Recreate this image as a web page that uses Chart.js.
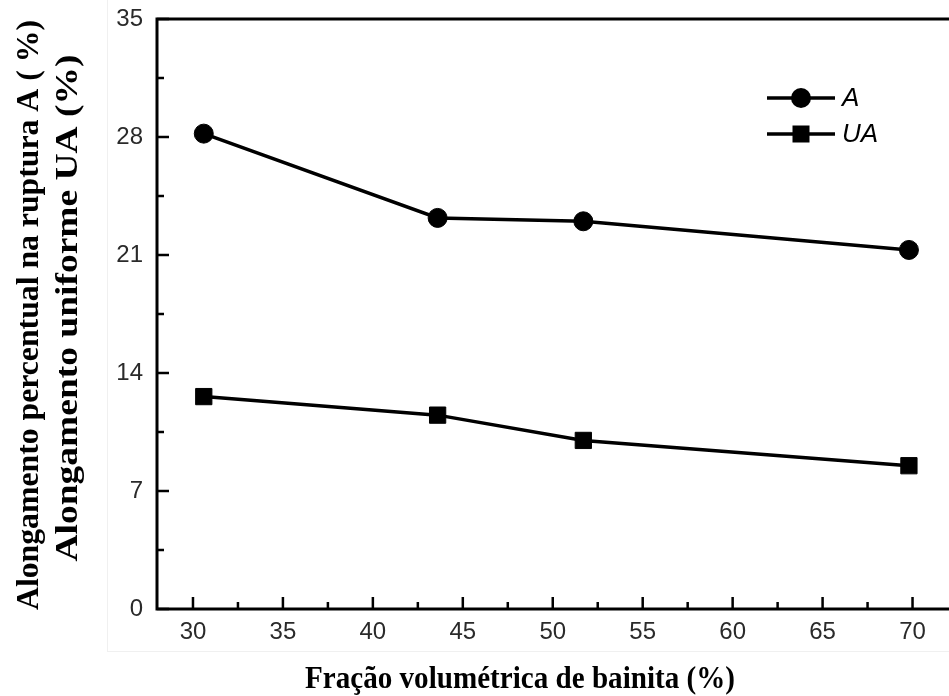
<!DOCTYPE html>
<html lang="pt">
<head>
    <meta charset="UTF-8">
    <title>Alongamento x Fração de bainita</title>
    <script src="https://cdn.jsdelivr.net/npm/chart.js"></script>
    <style>
        html, body {
            margin: 0;
            padding: 0;
            background: #ffffff;
            overflow: hidden;
        }
        #wrap {
            position: relative;
            width: 949px;
            height: 696px;
            overflow: hidden;
        }
        #frame {
            position: absolute;
            left: 107px;
            top: 0;
            width: 900px;
            height: 651px;
            border-left: 1px solid #f0f0f0;
            border-bottom: 1px solid #f0f0f0;
        }
        #chart {
            position: absolute;
            left: 0;
            top: 0;
        }
    </style>
</head>
<body>
    <div id="wrap">
        <div id="frame"></div>
        <canvas id="chart" width="970" height="696"></canvas>
    </div>

    <script>
        // values
        const fracBainita = [30.6, 43.6, 51.7, 69.8];
        const alongA = [28.2, 23.2, 23.0, 21.3];
        const alongUA = [12.6, 11.5, 10.0, 8.5];
        const seriesNames = ['A', 'UA'];
        const yMajor = [0, 7, 14, 21, 28, 35];
        const xMajor = [30, 35, 40, 45, 50, 55, 60, 65, 70];

        const yTitle = ['Alongamento percentual na ruptura A ( %)', 'Alongamento uniforme UA (%)'];
        const xTitle = 'Fração volumétrica de bainita (%)';

        const toPoints = (xs, ys) => xs.map((x, i) => ({ x: x, y: ys[i] }));

        // box around the plot + inward ticks
        const frameTicks = {
            id: 'frameTicks',
            beforeDatasetsDraw(chart) {
                const { ctx, chartArea: a, scales } = chart;
                ctx.save();
                ctx.strokeStyle = '#000';
                ctx.lineWidth = 3;
                ctx.strokeRect(a.left, a.top, a.right - a.left, a.bottom - a.top);

                ctx.lineWidth = 2.5;
                ctx.beginPath();
                for (let i = 0; i < yMajor.length; i++) {
                    const y = scales.y.getPixelForValue(yMajor[i]);
                    ctx.moveTo(a.left, y);
                    ctx.lineTo(a.left + 12, y);
                    if (i < yMajor.length - 1) {
                        const ym = scales.y.getPixelForValue((yMajor[i] + yMajor[i + 1]) / 2);
                        ctx.moveTo(a.left, ym);
                        ctx.lineTo(a.left + 7, ym);
                    }
                }
                for (let i = 0; i < xMajor.length; i++) {
                    const x = scales.x.getPixelForValue(xMajor[i]);
                    ctx.moveTo(x, a.bottom);
                    ctx.lineTo(x, a.bottom - 12);
                    if (i < xMajor.length - 1) {
                        const xm = scales.x.getPixelForValue((xMajor[i] + xMajor[i + 1]) / 2);
                        ctx.moveTo(xm, a.bottom);
                        ctx.lineTo(xm, a.bottom - 7);
                    }
                }
                ctx.stroke();
                ctx.restore();
            }
        };

        // legend drawn inside the plot, top right
        const innerLegend = {
            id: 'innerLegend',
            afterDraw(chart) {
                const { ctx, chartArea: a } = chart;
                const x0 = a.left + 610;
                const y0 = a.top + 79;
                ctx.save();
                chart.data.datasets.forEach((ds, i) => {
                    const y = y0 + i * 36;
                    ctx.strokeStyle = '#000';
                    ctx.lineWidth = 3.5;
                    ctx.beginPath();
                    ctx.moveTo(x0, y);
                    ctx.lineTo(x0 + 68, y);
                    ctx.stroke();
                    ctx.fillStyle = '#000';
                    if (ds.pointStyle === 'rect') {
                        ctx.fillRect(x0 + 34 - 8.5, y - 8.5, 17, 17);
                    } else {
                        ctx.beginPath();
                        ctx.arc(x0 + 34, y, 10, 0, Math.PI * 2);
                        ctx.fill();
                    }
                    ctx.font = 'italic 26px "Liberation Sans", Arial, sans-serif';
                    ctx.textBaseline = 'middle';
                    ctx.textAlign = 'left';
                    ctx.fillText(ds.label, x0 + 75, y + 1);
                });
                ctx.restore();
            }
        };

        // condensed serif axis titles
        const axisTitles = {
            id: 'axisTitles',
            afterDraw(chart) {
                const ctx = chart.ctx;
                ctx.save();
                ctx.fillStyle = '#000';
                ctx.font = 'bold 32px "Liberation Serif", "Times New Roman", serif';
                ctx.textAlign = 'center';
                ctx.textBaseline = 'alphabetic';

                // x title
                let w = ctx.measureText(xTitle).width;
                ctx.save();
                ctx.translate(520, 688);
                ctx.scale(430 / w, 1);
                ctx.fillText(xTitle, 0, 0);
                ctx.restore();

                // y title, two lines
                const spots = [[38, 315, 590], [77, 308, 507]];
                yTitle.forEach((t, i) => {
                    const [bx, cy, len] = spots[i];
                    const tw = ctx.measureText(t).width;
                    ctx.save();
                    ctx.translate(bx, cy);
                    ctx.rotate(-Math.PI / 2);
                    ctx.scale(len / tw, 1);
                    ctx.fillText(t, 0, 0);
                    ctx.restore();
                });
                ctx.restore();
            }
        };

        const tickFont = { family: '"Liberation Sans", Arial, sans-serif', size: 24 };

        new Chart(document.getElementById('chart'), {
            type: 'line',
            data: {
                datasets: [
                    {
                        label: seriesNames[0],
                        data: toPoints(fracBainita, alongA),
                        borderColor: '#000',
                        backgroundColor: '#000',
                        borderWidth: 3.5,
                        pointStyle: 'circle',
                        pointRadius: 9.5,
                        pointBorderWidth: 1,
                        tension: 0
                    },
                    {
                        label: seriesNames[1],
                        data: toPoints(fracBainita, alongUA),
                        borderColor: '#000',
                        backgroundColor: '#000',
                        borderWidth: 3.5,
                        pointStyle: 'rect',
                        pointRadius: 11.5,
                        pointBorderWidth: 1,
                        tension: 0
                    }
                ]
            },
            options: {
                responsive: false,
                animation: false,
                layout: { padding: { left: 0, top: 19, right: 12, bottom: 0 } },
                plugins: {
                    legend: { display: false },
                    tooltip: { enabled: false }
                },
                scales: {
                    x: {
                        type: 'linear',
                        min: 28,
                        max: 72.5,
                        afterFit(scale) {
                            scale.height = 87;
                            scale.paddingLeft = 0;
                            scale.paddingRight = 0;
                        },
                        afterBuildTicks(scale) { scale.ticks = xMajor.map(v => ({ value: v })); },
                        grid: { display: false, drawTicks: false },
                        border: { display: false },
                        ticks: { color: '#2a2a2a', font: tickFont, padding: 9, maxRotation: 0 }
                    },
                    y: {
                        min: 0,
                        max: 35,
                        afterFit(scale) {
                            scale.width = 157;
                            scale.paddingTop = 0;
                            scale.paddingBottom = 0;
                        },
                        afterBuildTicks(scale) { scale.ticks = yMajor.map(v => ({ value: v })); },
                        grid: { display: false, drawTicks: false },
                        border: { display: false },
                        ticks: { color: '#2a2a2a', font: tickFont, padding: 14 }
                    }
                }
            },
            plugins: [frameTicks, innerLegend, axisTitles]
        });
    </script>
</body>
</html>
